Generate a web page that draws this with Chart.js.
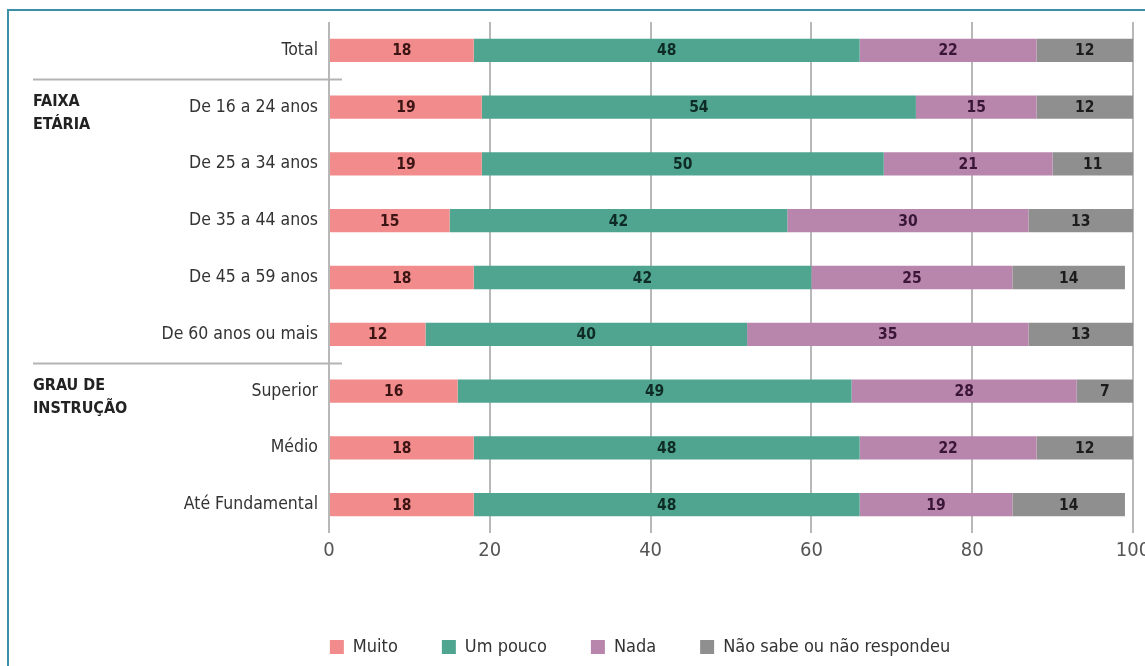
<!DOCTYPE html>
<html lang="pt-BR">
<head>
<meta charset="utf-8">
<title>Percepção por faixa etária e grau de instrução</title>
<script src="https://cdn.jsdelivr.net/npm/chart.js@4.4.1/dist/chart.umd.min.js"></script>
<style>
  html, body { margin: 0; padding: 0; background: #ffffff; }
  #wrap { position: relative; width: 1145px; height: 666px; overflow: hidden; }
  #frame {
    position: absolute; left: 7px; top: 9px; width: 1300px; height: 800px;
    border-left: 2px solid #3b8fa6; border-top: 2px solid #3b8fa6;
  }
  #chart { position: absolute; left: 0; top: 0; }
</style>
</head>
<body>
<div id="wrap">
  <div id="frame"></div>
  <canvas id="chart" width="1145" height="666"></canvas>
</div>
<script>
// Categories (rows) and the four answer series, in percent
const categories = [
  'Total',
  'De 16 a 24 anos',
  'De 25 a 34 anos',
  'De 35 a 44 anos',
  'De 45 a 59 anos',
  'De 60 anos ou mais',
  'Superior',
  'Médio',
  'Até Fundamental'
];
const muito    = [18, 19, 19, 15, 18, 12, 16, 18, 18];
const umPouco  = [48, 54, 50, 42, 42, 40, 49, 48, 48];
const nada     = [22, 15, 21, 30, 25, 35, 28, 22, 19];
const naoSabe  = [12, 12, 11, 13, 14, 13,  7, 12, 14];

const seriesNames = ['Muito', 'Um pouco', 'Nada', 'Não sabe ou não respondeu'];

// Row groups shown at the left, with the index of the first row in each group
const groupTitles = [['FAIXA', 'ETÁRIA'], ['GRAU DE', 'INSTRUÇÃO']];
const groupStarts = [1, 6];

// Value axis
const axisMin = 0;
const axisMax = 100;
const axisStep = 20;

const FONT = "'Liberation Sans Narrow', 'DejaVu Sans Condensed', 'Roboto Condensed', 'Arial Narrow', sans-serif";

const colors = ['#f28c8c', '#4fa58f', '#b885ad', '#8f8f8f'];
const labelColors = ['#3d1414', '#0f2b25', '#3a1636', '#1c1c1c'];

// Value labels centred inside each bar segment
const segmentLabels = {
  id: 'segmentLabels',
  afterDatasetsDraw(chart) {
    const ctx = chart.ctx;
    ctx.save();
    ctx.font = "bold 15.5px " + FONT;
    ctx.textAlign = 'center';
    ctx.textBaseline = 'middle';
    const right = chart.chartArea.right;
    chart.data.datasets.forEach((ds, di) => {
      const meta = chart.getDatasetMeta(di);
      ctx.fillStyle = labelColors[di];
      meta.data.forEach((bar, i) => {
        const v = ds.data[i];
        const x0 = Math.min(bar.base, right);
        const x1 = Math.min(bar.x, right);
        ctx.fillText(String(v), (x0 + x1) / 2, bar.y + 1);
      });
    });
    ctx.restore();
  }
};

// Group titles and separator rules on the left side
const groupMarks = {
  id: 'groupMarks',
  afterDraw(chart) {
    const ctx = chart.ctx;
    const y = chart.scales.y;
    const left = 33;
    const ruleEnd = chart.chartArea.left + 13;
    ctx.save();
    groupStarts.forEach((start, g) => {
      const yPrev = y.getPixelForValue(start - 1);
      const yFirst = y.getPixelForValue(start);
      const ruleY = Math.round((yPrev + yFirst) / 2) + 0.5;
      ctx.strokeStyle = '#b4b4b4';
      ctx.lineWidth = 2;
      ctx.beginPath();
      ctx.moveTo(left, ruleY);
      ctx.lineTo(ruleEnd, ruleY);
      ctx.stroke();

      ctx.fillStyle = '#222222';
      ctx.font = "bold 16px " + FONT;
      ctx.textAlign = 'left';
      ctx.textBaseline = 'middle';
      groupTitles[g].forEach((line, k) => {
        ctx.fillText(line, left, yFirst - 5 + k * 23);
      });
    });
    ctx.restore();
  }
};

const datasets = [muito, umPouco, nada, naoSabe].map((values, i) => ({
  label: seriesNames[i],
  data: values,
  backgroundColor: colors[i],
  borderWidth: 0,
  categoryPercentage: 1,
  barPercentage: 0.41
}));

new Chart(document.getElementById('chart'), {
  type: 'bar',
  data: { labels: categories, datasets },
  plugins: [segmentLabels, groupMarks],
  options: {
    indexAxis: 'y',
    responsive: false,
    animation: false,
    devicePixelRatio: 1,
    layout: { padding: { top: 22, left: 147, right: 12, bottom: 0 } },
    scales: {
      x: {
        stacked: true,
        min: axisMin,
        max: axisMax,
        ticks: {
          stepSize: axisStep,
          color: '#555555',
          font: { family: FONT, size: 20 },
          padding: 6
        },
        grid: { color: '#b8b8b8', lineWidth: 2, drawTicks: false },
        border: { display: false },
        afterFit(scale) {
          scale.height = 61;
          scale.paddingLeft = 0;
          scale.paddingRight = 0;
        }
      },
      y: {
        stacked: true,
        ticks: {
          color: '#333333',
          font: { family: FONT, size: 17.5 },
          padding: 11
        },
        grid: { display: false, drawTicks: false },
        border: { display: false },
        afterFit(scale) {
          scale.width = 182;
        }
      }
    },
    plugins: {
      legend: {
        position: 'bottom',
        labels: {
          boxWidth: 14,
          boxHeight: 14,
          color: '#333333',
          font: { family: FONT, size: 18 },
          padding: 44
        }
      },
      tooltip: { enabled: false }
    }
  }
});
</script>
</body>
</html>
